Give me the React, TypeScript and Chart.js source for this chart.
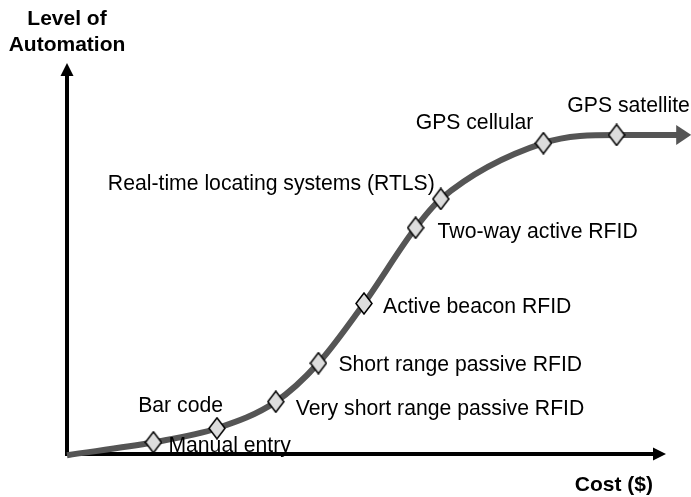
import React, { useEffect, useRef } from "react";
import { Chart, registerables } from "chart.js";

Chart.register(...registerables);

// ---- data ----
const categories = [
  "Manual entry",
  "Bar code",
  "Very short range passive RFID",
  "Short range passive RFID",
  "Active beacon RFID",
  "Two-way active RFID",
  "Real-time locating systems (RTLS)",
  "GPS cellular",
  "GPS satellite",
];
const costValues = [14.4, 25.0, 34.8, 41.9, 49.5, 58.1, 62.3, 79.4, 91.6];
const automationValues = [3.0, 6.6, 13.4, 23.3, 38.6, 58.0, 65.4, 79.7, 81.8];

// curve path (start, through technologies, end)
const curveCost = [0, 14.4, 25.0, 34.8, 41.9, 49.5, 58.1, 62.3, 79.4, 91.6, 101.7];
const curveLevel = [-0.3, 3.0, 6.6, 13.4, 23.3, 38.6, 58.0, 65.4, 79.7, 81.8, 81.8];

const axisTitleY = ["Level of", "Automation"];
const axisTitleX = "Cost ($)";

// ---- layout for labels (pixel offsets from each marker) ----
const labelLayout = [
  { dx: 15, dy: 10, align: "left" },
  { dx: 6, dy: -16, align: "right" },
  { dx: 20, dy: 13, align: "left" },
  { dx: 20, dy: 8, align: "left" },
  { dx: 19, dy: 10, align: "left" },
  { dx: 22, dy: 10, align: "left" },
  { dx: -6, dy: -9, align: "right" },
  { dx: -10, dy: -14, align: "right" },
  { dx: 12, dy: -23, align: "center" },
];

const FONT = '"Liberation Sans", Arial, Helvetica, sans-serif';
const CURVE_COLOR = "#555555";

function makeDiamond(): HTMLCanvasElement {
  const c = document.createElement("canvas");
  c.width = 18;
  c.height = 23;
  const g = c.getContext("2d")!;
  g.beginPath();
  g.moveTo(9, 1);
  g.lineTo(17, 11.5);
  g.lineTo(9, 22);
  g.lineTo(1, 11.5);
  g.closePath();
  g.fillStyle = "#dddddd";
  g.fill();
  g.lineWidth = 1.5;
  g.strokeStyle = "#000000";
  g.stroke();
  return c;
}

const overlayPlugin = {
  id: "overlay",
  beforeDatasetsDraw(chart: any) {
    const ctx = chart.ctx;
    const xs = chart.scales.x;
    const ys = chart.scales.y;
    const ox = xs.getPixelForValue(0);
    const oy = ys.getPixelForValue(0);
    const yTip = ys.getPixelForValue(100) - 1;
    const xTip = xs.getPixelForValue(100) - 1;
    ctx.save();
    ctx.fillStyle = "#000";
    ctx.strokeStyle = "#000";
    ctx.lineWidth = 4;
    // y axis
    ctx.beginPath();
    ctx.moveTo(ox, oy + 2);
    ctx.lineTo(ox, yTip + 10);
    ctx.stroke();
    ctx.beginPath();
    ctx.moveTo(ox, yTip);
    ctx.lineTo(ox + 6.5, yTip + 13);
    ctx.lineTo(ox - 6.5, yTip + 13);
    ctx.closePath();
    ctx.fill();
    // x axis
    ctx.beginPath();
    ctx.moveTo(ox - 2, oy);
    ctx.lineTo(xTip - 10, oy);
    ctx.stroke();
    ctx.beginPath();
    ctx.moveTo(xTip, oy);
    ctx.lineTo(xTip - 13, oy - 6.5);
    ctx.lineTo(xTip - 13, oy + 6.5);
    ctx.closePath();
    ctx.fill();

    // axis titles
    ctx.font = `bold 21px ${FONT}`;
    ctx.textAlign = "center";
    ctx.textBaseline = "alphabetic";
    ctx.fillText(axisTitleY[0], ox, yTip - 38);
    ctx.fillText(axisTitleY[1], ox, yTip - 12);
    ctx.textAlign = "right";
    ctx.fillText(axisTitleX, xTip - 13, oy + 37);
    ctx.restore();
  },
  afterDatasetsDraw(chart: any) {
    const ctx = chart.ctx;
    // arrowhead on curve
    const curveMeta = chart.getDatasetMeta(1);
    const pts = curveMeta.data;
    const last = pts[pts.length - 1];
    const prev = pts[pts.length - 2];
    const ang = Math.atan2(last.y - prev.y, last.x - prev.x);
    ctx.save();
    ctx.translate(last.x, last.y);
    ctx.rotate(ang);
    ctx.beginPath();
    ctx.moveTo(14, 0);
    ctx.lineTo(-1, -10);
    ctx.lineTo(-1, 10);
    ctx.closePath();
    ctx.fillStyle = CURVE_COLOR;
    ctx.fill();
    ctx.restore();

    // labels
    const meta = chart.getDatasetMeta(0);
    ctx.save();
    ctx.font = `21.2px ${FONT}`;
    ctx.fillStyle = "#000";
    ctx.textBaseline = "alphabetic";
    meta.data.forEach((p: any, i: number) => {
      const l = labelLayout[i];
      ctx.textAlign = l.align;
      ctx.fillText(categories[i], p.x + l.dx, p.y + l.dy);
    });
    ctx.restore();
  },
};

export default function App() {
  const ref = useRef<HTMLCanvasElement>(null);
  useEffect(() => {
    if (!ref.current) return;
    const diamond = makeDiamond();
    const chart = new Chart(ref.current, {
      type: "scatter",
      data: {
        datasets: [
          {
            label: "Technologies",
            data: costValues.map((x, i) => ({ x, y: automationValues[i] })),
            pointStyle: diamond as any,
            pointRadius: 9,
            showLine: false,
            clip: false as any,
            order: 0,
          },
          {
            label: "Curve",
            type: "line",
            data: curveCost.map((x, i) => ({ x, y: curveLevel[i] })),
            borderColor: CURVE_COLOR,
            borderWidth: 6,
            pointRadius: 0,
            showLine: true,
            fill: false,
            cubicInterpolationMode: "monotone",
            clip: false as any,
            order: 1,
          } as any,
        ],
      },
      options: {
        animation: false,
        responsive: false,
        devicePixelRatio: 1,
        layout: { padding: { left: 67, right: 24, top: 64, bottom: 43 } },
        scales: {
          x: { type: "linear", min: 0, max: 100, display: false },
          y: { type: "linear", min: 0, max: 100, display: false },
        },
        plugins: {
          legend: { display: false },
          tooltip: { enabled: false },
        },
        events: [],
      },
      plugins: [overlayPlugin],
    });
    return () => chart.destroy();
  }, []);
  return (
    <div style={{ position: "fixed", left: 0, top: 0, width: 691, height: 497, background: "#fff" }}>
      <canvas ref={ref} width={691} height={497} style={{ display: "block" }} />
    </div>
  );
}
